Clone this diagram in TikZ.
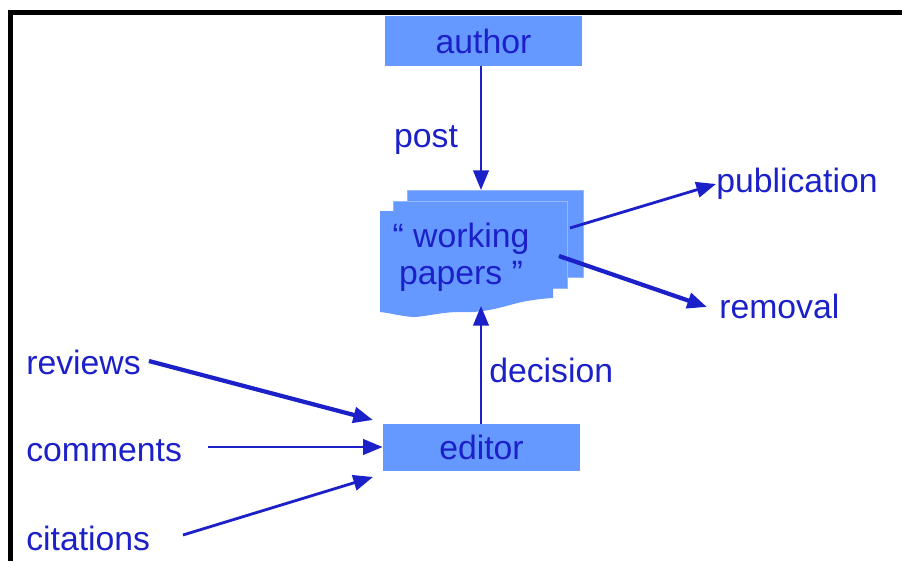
\documentclass[tikz,border=0pt]{standalone}
\usepackage{fontspec}
\setmainfont{Liberation Sans}
\usetikzlibrary{arrows.meta}
\definecolor{inkblue}{RGB}{28,32,200}
\definecolor{boxblue}{RGB}{102,153,255}

\begin{document}
\begin{tikzpicture}[x=0.025cm, y=-0.025cm,
    every node/.style = {font=\fontsize{24}{26}\selectfont, text=inkblue, inner sep=0pt},
    box/.style = {fill=boxblue, minimum width=4.925cm},
    sheet/.style = {fill=boxblue, draw=boxblue!70!white, line width=0.5pt, minimum height=2.175cm},
    flow/.style = {draw=inkblue, line width=2pt, -{Triangle[length=14pt,width=11pt]}},
    heavy/.style = {flow, line width=3pt}]
    \useasboundingbox (0,0) rectangle (902,561);
    % frame
    \draw[line width=3.4pt] (10.5,561) -- (10.5,12.5) -- (902,12.5);

    % boxes
    \node[box, minimum height=1.25cm] (author) at (483.5,41) {author};
    \node[box, minimum height=1.175cm] (editor) at (481.5,447.5) {editor};

    % stack of working papers
    \node[sheet, minimum width=4.4cm] (back) at (495,233.5) {};
    \node[sheet, minimum width=4.35cm] (mid) at (480,244.5) {};
    \fill[boxblue] (380,211) -- (553,211) -- (553,298)
        .. controls (535,299) and (520,302) .. (510,305)
        .. controls (495,309) and (480,313) .. (460,312)
        .. controls (440,312) and (425,317) .. (413,317)
        .. controls (400,316) and (390,313) .. (380,312) -- cycle;
    \node[align=center] (papers) at (461,257) {“ working\\papers ”};
    \coordinate (stacktop) at (481,190);
    \coordinate (torn) at (481,306);
    \coordinate (pubstart) at (570,228);
    \coordinate (remstart) at (559,256);

    % labels
    \node[anchor=base] (post) at (426,147) {post};
    \node[anchor=base west] (decision) at (489,382) {decision};
    \node[anchor=base west] (publication) at (716,192) {publication};
    \node[anchor=base west] (removal) at (719,318) {removal};
    \node[anchor=base west] (reviews) at (26,374) {reviews};
    \node[anchor=base west] (comments) at (26,461) {comments};
    \node[anchor=base west] (citations) at (26,550) {citations};

    % arrows
    \draw[flow] (author.south -| stacktop) -- (stacktop);
    \draw[flow] (editor.north -| torn) -- (torn);
    \draw[flow] (pubstart) -- (publication.west |- 0,184);
    \draw[heavy] (remstart) -- (707,307);
    \draw[heavy] (reviews.east |- 0,361) ++(8,0) -- (373,420);
    \draw[flow] (208,447) -- (editor.west |- 0,447);
    \draw[flow] (183,535) -- (373,477);
\end{tikzpicture}
\end{document}
